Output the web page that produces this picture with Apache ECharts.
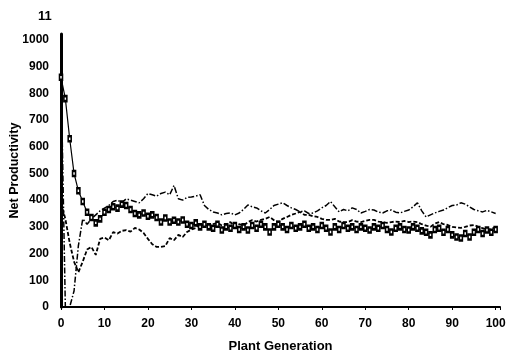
<!DOCTYPE html>
<html>
<head>
<meta charset="utf-8">
<script src="https://cdn.jsdelivr.net/npm/echarts@6/dist/echarts.min.js"></script>
<style>
  html, body { margin: 0; padding: 0; background: #fff; }
  #chart { width: 508px; height: 355px; }
</style>
</head>
<body>
<div id="chart"></div>
<script>
// plant generations 0..100
const generations = Array.from({ length: 101 }, (_, i) => i);

// solid line, square markers
const squareLine = [
  860, 780, 630, 500, 435, 395, 355, 335, 315, 330,
  355, 365, 375, 370, 385, 380, 365, 350, 345, 352,
  340, 345, 335, 318, 333, 318, 325, 318, 326, 310,
  305, 315, 300, 310, 300, 295, 310, 288, 300, 295,
  305, 290, 300, 288, 305, 295, 310, 300, 281, 300,
  310, 300, 290, 305, 295, 300, 310, 295, 300, 290,
  305, 295, 281, 300, 290, 305, 295, 300, 290, 300,
  295, 288, 300, 295, 305, 290, 281, 295, 300, 290,
  288, 300, 295, 285, 280, 270, 290, 295, 280, 290,
  270, 262, 258, 275, 262, 280, 290, 275, 288, 280,
  290
];

// dash-dot line (drops to zero, then upper band)
const dashDotLine = [
  880, 0, 0, 60, 230, 330, 310, 330, 345, 360,
  370, 380, 395, 400, 390, 405, 400, 395, 390, 405,
  425, 420, 415, 425, 430, 420, 455, 405, 400, 410,
  412, 415, 420, 380, 365, 356, 352, 345, 350, 352,
  345, 352, 365, 382, 375, 371, 360, 352, 365, 380,
  385, 390, 380, 371, 365, 356, 360, 350, 352, 360,
  371, 380, 395, 375, 356, 365, 360, 371, 365, 352,
  358, 365, 363, 355, 352, 360, 363, 355, 352, 358,
  363, 375, 390, 360, 337, 345, 352, 358, 363, 372,
  380, 382, 390, 385, 375, 365, 360, 356, 362, 356,
  350
];

// dashed line (low band early on)
const dashedLine = [
  390, 330, 240, 170, 130, 170, 215, 225, 195, 255,
  260, 250, 280, 275, 285, 288, 282, 296, 290, 277,
  255, 235, 225, 225, 228, 258, 250, 270, 262, 281,
  290, 296, 310, 305, 300, 310, 315, 305, 310, 318,
  300, 310, 305, 318, 325, 320, 326, 330, 337, 325,
  318, 330, 337, 345, 350, 356, 345, 345, 340, 337,
  330, 326, 326, 330, 320, 318, 318, 325, 320, 318,
  322, 326, 326, 320, 318, 315, 318, 320, 318, 322,
  318, 320, 318, 310, 305, 300, 312, 318, 310, 307,
  300, 298, 296, 300, 305, 307, 300, 295, 288, 292,
  300
];

const pairs = (values) => generations.map((g, i) => [g, values[i]]);

const chart = echarts.init(document.getElementById("chart"), null, { renderer: "canvas" });

const labelFont = {
  fontFamily: "Liberation Sans",
  fontWeight: "bold",
  fontSize: 12,
  color: "#000",
};

chart.setOption({
  animation: false,
  backgroundColor: "#fff",
  title: {
    text: "11",
    left: 33,
    top: 5,
    textStyle: { fontFamily: "Liberation Sans", fontWeight: "bold", fontSize: 13, color: "#000" },
  },
  grid: { left: 61, right: 8, top: 34, bottom: 48, outerBoundsMode: "none", containLabel: false },
  xAxis: {
    type: "value",
    min: 0,
    max: 101,
    interval: 10,
    offset: 2,
    name: "Plant Generation",
    nameLocation: "middle",
    nameGap: 31,
    nameMoveOverlap: false,
    nameTextStyle: { fontFamily: "Liberation Sans", fontWeight: "bold", fontSize: 13, color: "#000" },
    axisLine: { lineStyle: { color: "#000", width: 2 } },
    axisTick: { show: true, length: 3, lineStyle: { color: "#000", width: 1 } },
    axisLabel: {
      ...labelFont,
      margin: 9,
      formatter: (v) => (v > 100 ? "" : String(v)),
    },
    splitLine: { show: false },
  },
  yAxis: {
    type: "value",
    min: 0,
    max: 1022,
    interval: 100,
    offset: 3,
    name: "Net Productivity",
    nameLocation: "middle",
    nameGap: 37,
    nameMoveOverlap: false,
    nameTextStyle: { fontFamily: "Liberation Sans", fontWeight: "bold", fontSize: 12.5, color: "#000" },
    axisLine: { show: true, lineStyle: { color: "#000", width: 3 } },
    axisTick: { show: false },
    axisLabel: {
      ...labelFont,
      margin: 9,
      formatter: (v) => (v > 1000 ? "" : String(v)),
    },
    splitLine: { show: false },
  },
  series: [
    {
      name: "squares",
      type: "line",
      data: pairs(squareLine),
      symbol: "emptyRect",
      symbolSize: [3, 5],
      showAllSymbol: true,
      itemStyle: { color: "#000", borderWidth: 1 },
      lineStyle: { color: "#000", width: 1.2 },
    },
    {
      name: "dash-dot",
      type: "line",
      data: pairs(dashDotLine),
      showSymbol: false,
      lineStyle: { color: "#000", width: 1.5, type: [6, 2, 1.5, 2] },
    },
    {
      name: "dashed",
      type: "line",
      data: pairs(dashedLine),
      showSymbol: false,
      lineStyle: { color: "#000", width: 1.8, type: [4, 2] },
    },
  ],
});
</script>
</body>
</html>
